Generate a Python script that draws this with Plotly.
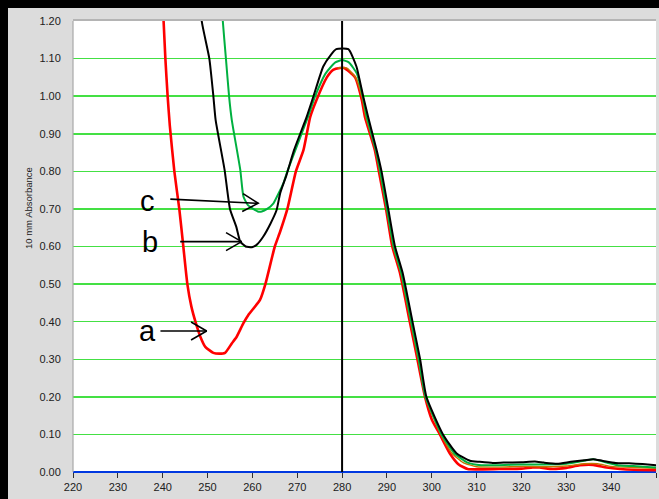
import math
import plotly.graph_objects as go

# ---------------- data ----------------
red_w = [239.8, 240.2, 240.6, 241.1, 241.6, 242.6, 243.7, 244.6, 245.5, 246.4, 247.3, 248.4, 249.5,
         251.3, 252.6, 253.9, 255.4, 256.5, 258.0, 259.1, 261.7, 262.9, 265.0, 266.2, 267.8, 269.7,
         271.4, 272.9, 274.3, 276.6, 278.0, 279.5, 280.5, 282.9, 284.4, 285.1, 287.3, 288.2, 289.8,
         291.2, 292.9, 295.1, 296.8, 298.5, 300.0, 301.8, 304.0, 306.0, 308.0, 310.0, 315.0, 320.0,
         322.5, 324.0, 327.0, 330.0, 333.0, 336.0, 339.0, 342.0, 345.0, 350.0]
red_a = [1.30, 1.20, 1.10, 1.00, 0.92, 0.80, 0.70, 0.60, 0.50, 0.44, 0.40, 0.36, 0.333,
         0.317, 0.315, 0.317, 0.342, 0.36, 0.396, 0.418, 0.458, 0.50, 0.60, 0.64, 0.70, 0.80,
         0.857, 0.945, 0.99, 1.05, 1.07, 1.075, 1.075, 1.05, 0.99, 0.945, 0.857, 0.80, 0.70,
         0.60, 0.53, 0.40, 0.30, 0.20, 0.14, 0.10, 0.05, 0.02, 0.008, 0.007, 0.008, 0.009,
         0.012, 0.012, 0.008, 0.011, 0.018, 0.019, 0.012, 0.008, 0.006, 0.005]

brown_w = [279.0, 281.0, 283.0, 284.6, 285.3, 287.5, 288.4, 290.0, 291.4, 293.1, 295.3, 297.0,
           298.6, 302.0, 304.5, 307.0, 310.0, 315.0, 320.0, 325.0, 330.0, 334.0, 337.0, 340.0,
           345.0, 350.0]
brown_a = [1.075, 1.075, 1.05, 0.99, 0.945, 0.857, 0.80, 0.70, 0.60, 0.53, 0.40, 0.30,
           0.20, 0.10, 0.05, 0.025, 0.014, 0.013, 0.015, 0.014, 0.016, 0.022, 0.022, 0.015,
           0.012, 0.010]

green_w = [253.0, 253.4, 254.1, 254.8, 255.4, 257.3, 258.0, 259.0, 260.2, 261.2, 262.1, 263.3,
           264.7, 266.0, 266.9, 267.8, 269.6, 272.4, 274.0, 276.3, 278.5, 280.0, 281.5, 283.3,
           284.6, 285.5, 287.5, 288.5, 290.0, 291.5, 293.2, 295.4, 297.1, 298.6, 302.2, 305.0,
           308.0, 311.0, 315.0, 320.0, 325.0, 330.0, 333.0, 336.0, 339.0, 342.0, 345.0, 350.0]
green_a = [1.28, 1.20, 1.10, 1.00, 0.937, 0.804, 0.733, 0.71, 0.70, 0.693, 0.693, 0.70,
           0.715, 0.745, 0.768, 0.80, 0.857, 0.945, 1.00, 1.06, 1.09, 1.096, 1.09, 1.06,
           1.00, 0.945, 0.857, 0.80, 0.70, 0.60, 0.53, 0.40, 0.30, 0.20, 0.10, 0.05,
           0.025, 0.018, 0.018, 0.020, 0.020, 0.022, 0.028, 0.034, 0.025, 0.017, 0.016, 0.012]

black_w = [248.4, 248.7, 250.4, 251.3, 251.8, 253.8, 255.0, 256.4, 257.3, 258.5, 259.9, 261.0,
           262.4, 264.0, 265.4, 266.2, 267.6, 269.3, 272.1, 273.6, 275.8, 277.5, 278.7, 281.4,
           283.2, 284.7, 285.8, 287.7, 288.8, 290.3, 291.8, 293.5, 295.7, 297.4, 298.8, 302.5,
           305.5, 308.5, 310.7, 313.6, 316.0, 320.0, 323.0, 325.0, 328.0, 331.0, 334.0, 336.0,
           338.0, 341.0, 344.0, 347.0, 350.0]
black_a = [1.28, 1.20, 1.10, 1.00, 0.937, 0.804, 0.70, 0.653, 0.613, 0.60, 0.598, 0.605,
           0.626, 0.66, 0.697, 0.742, 0.79, 0.857, 0.945, 0.999, 1.079, 1.11, 1.125, 1.125,
           1.079, 1.00, 0.945, 0.857, 0.80, 0.70, 0.60, 0.53, 0.40, 0.30, 0.20, 0.10,
           0.05, 0.03, 0.027, 0.024, 0.025, 0.026, 0.028, 0.025, 0.022, 0.027, 0.031, 0.034,
           0.030, 0.024, 0.023, 0.021, 0.018]

# arrow annotations: label, text position, arrow tail, arrow tip
arrow_labels = ["a", "b", "c"]
label_w = [236.7, 237.2, 236.7]
label_a = [0.376, 0.612, 0.721]
tail_w = [239.5, 243.9, 241.7]
tail_a = [0.375, 0.613, 0.726]
tip_w = [249.8, 257.6, 261.3]
tip_a = [0.375, 0.613, 0.715]

marker_wavelength = 280
x_ticks = list(range(220, 351, 10))
x_range = [220, 350]
y_range = [0, 1.2]

# ---------------- figure ----------------
WIN_W, WIN_H = 659, 499
FRAME = 8                       # black window border (top and left), drawn with CSS
W, H = WIN_W - FRAME, WIN_H - FRAME
ML, MR, MT, MB = 65, 3, 13, 27
plot_w = W - ML - MR
plot_h = H - MT - MB
sx = plot_w / (x_range[1] - x_range[0])   # px per nm
sy = plot_h / (y_range[1] - y_range[0])   # px per absorbance unit

fig = go.Figure()
series = [
    (red_w, red_a, "#ff0000", 2.6, "a"),
    (brown_w, brown_a, "#c07800", 1.4, "a'"),
    (green_w, green_a, "#00b040", 2.0, "c"),
    (black_w, black_a, "#000000", 2.0, "b"),
]
for xs, ys, col, lw, nm in series:
    fig.add_trace(go.Scatter(x=xs, y=ys, mode="lines", name=nm,
                             line=dict(color=col, width=lw, shape="spline", smoothing=0.5),
                             hoverinfo="skip"))

# arrows (shaft + open V head), heads sized in pixels
head_len = 18.0
head_ang = math.radians(30)
for i in range(len(arrow_labels)):
    x0p, y0p = tail_w[i] * sx, tail_a[i] * sy
    x1p, y1p = tip_w[i] * sx, tip_a[i] * sy
    ang = math.atan2(y1p - y0p, x1p - x0p)
    hx, hy = [], []
    for s in (1, -1):
        a2 = ang + math.pi + s * head_ang
        hx.append((x1p + head_len * math.cos(a2)) / sx)
        hy.append((y1p + head_len * math.sin(a2)) / sy)
    xs = [tail_w[i], tip_w[i], None, hx[0], tip_w[i], hx[1]]
    ys = [tail_a[i], tip_a[i], None, hy[0], tip_a[i], hy[1]]
    fig.add_trace(go.Scatter(x=xs, y=ys, mode="lines", line=dict(color="black", width=1.6),
                             hoverinfo="skip", showlegend=False))
    fig.add_annotation(x=label_w[i], y=label_a[i], text=arrow_labels[i], showarrow=False,
                       font=dict(family="Liberation Sans", size=29, color="black"),
                       xanchor="center", yanchor="middle")

# vertical marker line
fig.add_shape(type="line", x0=marker_wavelength, x1=marker_wavelength, y0=y_range[0], y1=y_range[1],
              xref="x", yref="y", line=dict(color="black", width=2), layer="above")

# plot frame
fig.add_shape(type="line", xref="paper", yref="paper", x0=0, x1=1, y0=1.002, y1=1.002,
              line=dict(color="#b4b4b4", width=2), layer="above")
fig.add_shape(type="line", xref="paper", yref="paper", x0=0, x1=0, y0=0, y1=1,
              line=dict(color="#a8a8a8", width=1.2), layer="above")

def px_x(p):   # window pixel -> paper x
    return (p - FRAME - ML) / plot_w

def px_y(p):   # window pixel -> paper y
    return (FRAME + H - MB - p) / plot_h

# y axis title
fig.add_annotation(xref="paper", yref="paper", x=px_x(28), y=px_y(208), text="10 mm Absorbance",
                   showarrow=False, textangle=-90,
                   font=dict(family="Liberation Sans", size=9.5, color="#202020"),
                   xanchor="center", yanchor="middle")

fig.update_layout(
    width=W, height=H,
    margin=dict(l=ML, r=MR, t=MT, b=MB, pad=0),
    paper_bgcolor="#dcdcdc",
    plot_bgcolor="#ffffff",
    showlegend=False,
    font=dict(family="Liberation Sans", size=11, color="#202020"),
)
fig.update_xaxes(range=x_range, tickvals=x_ticks, ticktext=[str(v) for v in x_ticks],
                 showgrid=False, zeroline=False, showline=False,
                 ticks="outside", ticklen=5, tickwidth=1, tickcolor="#303030",
                 tickfont=dict(size=11, color="#202020"))
fig.update_yaxes(range=y_range, dtick=0.1, tick0=0, tickformat=".2f",
                 showgrid=True, gridcolor="#44e044", gridwidth=1.5,
                 zeroline=True, zerolinecolor="#0038e0", zerolinewidth=2.2,
                 showline=False, ticks="outside", ticklen=9, tickcolor="rgba(0,0,0,0)",
                 tickfont=dict(size=11, color="#202020"))

css = (
    "document.documentElement.style.background='black';"
    "document.body.style.margin='0';"
    "document.body.style.background='black';"
    "document.body.style.overflow='hidden';"
    "var gd=document.getElementById('{plot_id}');"
    "gd.style.borderTop='%dpx solid black';"
    "gd.style.borderLeft='%dpx solid black';"
    "gd.style.width='%dpx';gd.style.height='%dpx';"
) % (FRAME, FRAME, W, H)

fig.write_html("out.html", config={"displayModeBar": False, "staticPlot": True},
               post_script=css)
